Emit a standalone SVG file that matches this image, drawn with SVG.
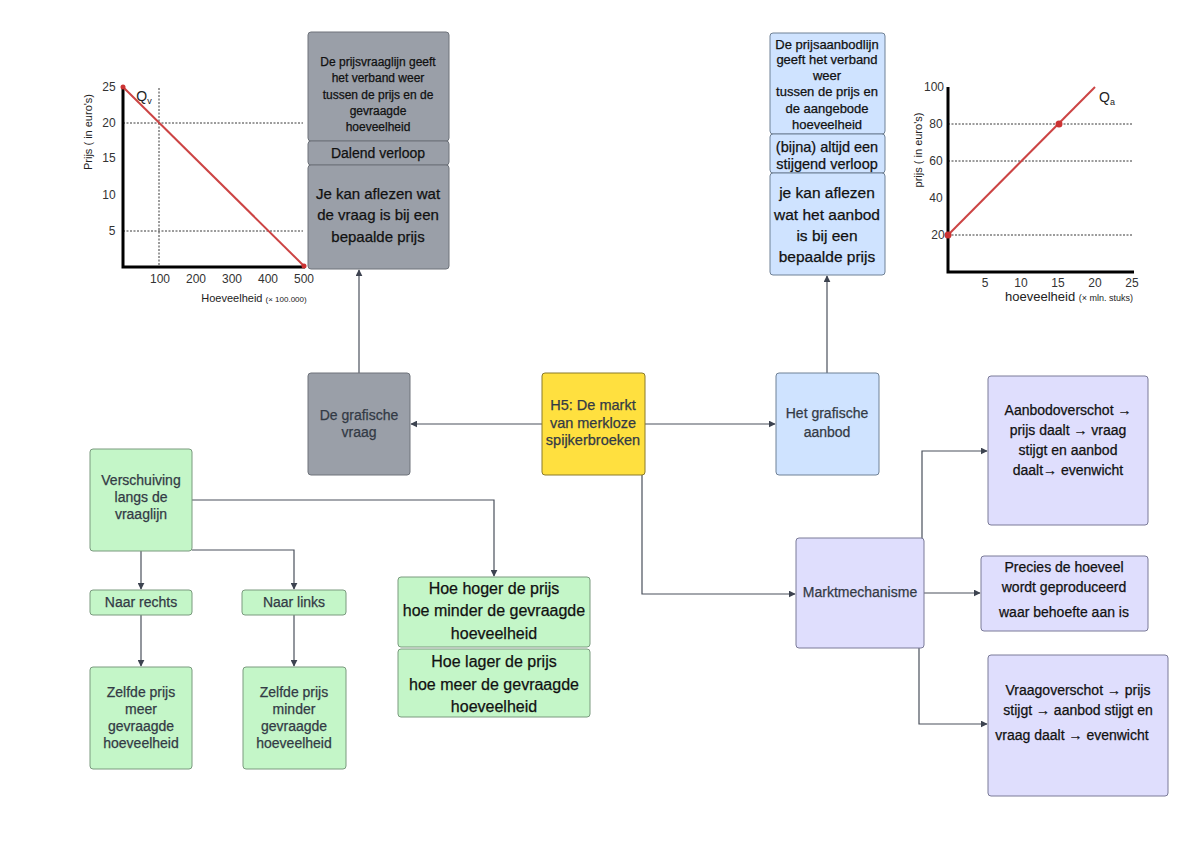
<svg xmlns="http://www.w3.org/2000/svg" width="1200" height="848" viewBox="0 0 1200 848">
<defs>
<marker id="arr" viewBox="0 0 10 10" refX="9" refY="5" markerWidth="7" markerHeight="7" orient="auto" markerUnits="userSpaceOnUse">
<path d="M0,0 L10,5 L0,10 z" fill="#3d4350"/>
</marker>
<style>
text{font-family:"Liberation Sans",Arial,sans-serif;text-anchor:middle}
.gray{fill:#9a9fa8;stroke:#6e737b;stroke-width:1}
.blue{fill:#cfe3ff;stroke:#6f8196;stroke-width:1}
.yel{fill:#ffe03f;stroke:#8a7a2a;stroke-width:1}
.lav{fill:#dfdefd;stroke:#7a7a98;stroke-width:1}
.grn{fill:#c4f6c8;stroke:#7a9a7e;stroke-width:1}
.t{font-size:14px;fill:#111;stroke:#111;stroke-width:0.25}
.td{font-size:14px;fill:#333a45;stroke:#333a45;stroke-width:0.25}
.con{fill:none;stroke:#4a505c;stroke-width:1.2;marker-end:url(#arr)}
.ax{stroke:#000;stroke-width:3;fill:none}
.dash{stroke:#222;stroke-width:0.9;stroke-dasharray:2,1.5;fill:none}
.tick{font-size:12px;fill:#333}
</style>
</defs>
<rect width="1200" height="848" fill="#fff"/>

<g id="chart-vraag">
<line class="dash" x1="123" y1="123" x2="303" y2="123"/>
<line class="dash" x1="123" y1="231" x2="303" y2="231"/>
<line class="dash" x1="159" y1="88" x2="159" y2="267"/>
<polyline class="ax" points="123,87 123,267 305,267"/>
<line x1="123" y1="87" x2="304" y2="266" stroke="#cc4444" stroke-width="2"/>
<circle cx="123" cy="87" r="2.5" fill="#cc3333"/>
<circle cx="304" cy="266" r="2.5" fill="#cc3333"/>
<text x="144" y="101" font-size="14" fill="#222">Q<tspan font-size="9" dy="3">v</tspan></text>
<text class="tick" x="109" y="91">25</text>
<text class="tick" x="109" y="127">20</text>
<text class="tick" x="109" y="162">15</text>
<text class="tick" x="109" y="199">10</text>
<text class="tick" x="112" y="235">5</text>
<text class="tick" x="160" y="283">100</text>
<text class="tick" x="196" y="283">200</text>
<text class="tick" x="232" y="283">300</text>
<text class="tick" x="268" y="283">400</text>
<text class="tick" x="304" y="283">500</text>
<text x="0" y="0" font-size="11" fill="#222" transform="translate(92,132) rotate(-90)">Prijs ( in euro's)</text>
<text x="254" y="302" font-size="11" fill="#222">Hoeveelheid <tspan font-size="8">(× 100.000)</tspan></text>
</g>

<g id="chart-aanbod">
<line class="dash" x1="948" y1="124" x2="1133" y2="124"/>
<line class="dash" x1="948" y1="161" x2="1133" y2="161"/>
<line class="dash" x1="948" y1="235" x2="1133" y2="235"/>
<polyline class="ax" points="948,87 948,272 1134,272"/>
<line x1="948" y1="235" x2="1095" y2="87" stroke="#cc4444" stroke-width="2"/>
<circle cx="948" cy="235" r="3.5" fill="#cc3333"/>
<circle cx="1059" cy="124" r="3.5" fill="#cc3333"/>
<text x="1107" y="102" font-size="14" fill="#222">Q<tspan font-size="9" dy="3">a</tspan></text>
<text class="tick" x="934" y="91">100</text>
<text class="tick" x="936" y="128">80</text>
<text class="tick" x="936" y="165">60</text>
<text class="tick" x="936" y="202">40</text>
<text class="tick" x="938" y="239">20</text>
<text class="tick" x="985" y="287">5</text>
<text class="tick" x="1021" y="287">10</text>
<text class="tick" x="1058" y="287">15</text>
<text class="tick" x="1095" y="287">20</text>
<text class="tick" x="1132" y="287">25</text>
<text x="0" y="0" font-size="11" fill="#222" transform="translate(922,150) rotate(-90)">prijs ( in euro's)</text>
<text x="1069" y="301" font-size="13" fill="#222">hoeveelheid <tspan font-size="9">(× mln. stuks)</tspan></text>
</g>

<g id="connectors">
<path class="con" d="M542,424 H411"/>
<path class="con" d="M645,424 H775"/>
<path class="con" d="M359,373 V270"/>
<path class="con" d="M827,373 V276"/>
<path class="con" d="M827,173 V135"/>
<path class="con" d="M642,475 V594 H795"/>
<path class="con" d="M922,538 V451 H987"/>
<path class="con" d="M924,593 H980"/>
<path class="con" d="M919,648 V724 H987"/>
<path class="con" d="M192,500 H494 V576"/>
<path class="con" d="M141,551 V589"/>
<path class="con" d="M192,550 H294 V589"/>
<path class="con" d="M141,615 V666"/>
<path class="con" d="M294,615 V666"/>
</g>

<g id="prijsvraaglijn">
<rect class="gray" x="308" y="32" width="141" height="109" rx="3"/>
<text class="t" x="378" y="66" style="font-size:12px">De prijsvraaglijn geeft</text>
<text class="t" x="378" y="82" style="font-size:12px">het verband weer</text>
<text class="t" x="378" y="99" style="font-size:12px">tussen de prijs en de</text>
<text class="t" x="378" y="115" style="font-size:12px">gevraagde</text>
<text class="t" x="378" y="131" style="font-size:12px">hoeveelheid</text>
</g>
<g id="dalend">
<rect class="gray" x="308" y="141" width="141" height="24" rx="3"/>
<text class="t" x="378" y="158">Dalend verloop</text>
</g>
<g id="aflezen-vraag">
<rect class="gray" x="308" y="165" width="141" height="104" rx="3"/>
<text class="t" x="378" y="199" style="font-size:15px">Je kan aflezen wat</text>
<text class="t" x="378" y="220" style="font-size:15px">de vraag is bij een</text>
<text class="t" x="378" y="242" style="font-size:15px">bepaalde prijs</text>
</g>

<g id="prijsaanbodlijn">
<rect class="blue" x="770" y="33" width="115" height="101" rx="3"/>
<text class="t" x="827" y="49" style="font-size:13px">De prijsaanbodlijn</text>
<text class="t" x="827" y="64" style="font-size:13px">geeft het verband</text>
<text class="t" x="827" y="80" style="font-size:13px">weer</text>
<text class="t" x="827" y="96" style="font-size:13px">tussen de prijs en</text>
<text class="t" x="827" y="113" style="font-size:13px">de aangebode</text>
<text class="t" x="827" y="129" style="font-size:13px">hoeveelheid</text>
</g>
<g id="stijgend">
<rect class="blue" x="770" y="134" width="115" height="39" rx="3"/>
<text class="t" x="827" y="152" style="font-size:14.5px">(bijna) altijd een</text>
<text class="t" x="827" y="169" style="font-size:14.5px">stijgend verloop</text>
</g>
<g id="aflezen-aanbod">
<rect class="blue" x="770" y="173" width="115" height="102" rx="3"/>
<text class="t" x="827" y="198" style="font-size:15.5px">je kan aflezen</text>
<text class="t" x="827" y="220" style="font-size:15.5px">wat het aanbod</text>
<text class="t" x="827" y="241" style="font-size:15.5px">is bij een</text>
<text class="t" x="827" y="262" style="font-size:15.5px">bepaalde prijs</text>
</g>

<g id="grafische-vraag">
<rect class="gray" x="308" y="373" width="102" height="102" rx="3"/>
<text class="td" x="359" y="420">De grafische</text>
<text class="td" x="359" y="437">vraag</text>
</g>
<g id="h5">
<rect class="yel" x="542" y="373" width="103" height="102" rx="3"/>
<text class="td" x="593" y="410" style="font-size:14.5px">H5: De markt</text>
<text class="td" x="593" y="428" style="font-size:14.5px">van merkloze</text>
<text class="td" x="593" y="445" style="font-size:14.5px">spijkerbroeken</text>
</g>
<g id="grafische-aanbod">
<rect class="blue" x="776" y="373" width="103" height="102" rx="3"/>
<text class="td" x="827" y="418">Het grafische</text>
<text class="td" x="827" y="437">aanbod</text>
</g>

<g id="marktmechanisme">
<rect class="lav" x="796" y="538" width="128" height="110" rx="3"/>
<text class="td" x="860" y="597">Marktmechanisme</text>
</g>
<g id="aanbodoverschot">
<rect class="lav" x="988" y="376" width="160" height="149" rx="3"/>
<text class="t" x="1068" y="415">Aanbodoverschot →</text>
<text class="t" x="1068" y="435">prijs daalt → vraag</text>
<text class="t" x="1068" y="455">stijgt en aanbod</text>
<text class="t" x="1068" y="475">daalt→ evenwicht</text>
</g>
<g id="precies">
<rect class="lav" x="981" y="556" width="167" height="75" rx="3"/>
<text class="t" x="1064" y="572">Precies de hoeveel</text>
<text class="t" x="1064" y="592">wordt geproduceerd</text>
<text class="t" x="1064" y="617">waar behoefte aan is</text>
</g>
<g id="vraagoverschot">
<rect class="lav" x="988" y="655" width="180" height="141" rx="3"/>
<text class="t" x="1078" y="695">Vraagoverschot → prijs</text>
<text class="t" x="1078" y="715">stijgt → aanbod stijgt en</text>
<text class="t" x="1072" y="740">vraag daalt → evenwicht</text>
</g>

<g id="verschuiving">
<rect class="grn" x="90" y="449" width="102" height="102" rx="3"/>
<text class="td" x="141" y="485">Verschuiving</text>
<text class="td" x="141" y="502">langs de</text>
<text class="td" x="141" y="519">vraaglijn</text>
</g>
<g id="naar-rechts">
<rect class="grn" x="90" y="590" width="102" height="25" rx="3"/>
<text class="td" x="141" y="607">Naar rechts</text>
</g>
<g id="naar-links">
<rect class="grn" x="242" y="590" width="104" height="25" rx="3"/>
<text class="td" x="294" y="607">Naar links</text>
</g>
<g id="zelfde-meer">
<rect class="grn" x="90" y="667" width="102" height="102" rx="3"/>
<text class="td" x="141" y="697">Zelfde prijs</text>
<text class="td" x="141" y="714">meer</text>
<text class="td" x="141" y="731">gevraagde</text>
<text class="td" x="141" y="748">hoeveelheid</text>
</g>
<g id="zelfde-minder">
<rect class="grn" x="243" y="667" width="103" height="102" rx="3"/>
<text class="td" x="294" y="697">Zelfde prijs</text>
<text class="td" x="294" y="714">minder</text>
<text class="td" x="294" y="731">gevraagde</text>
<text class="td" x="294" y="748">hoeveelheid</text>
</g>
<g id="hoe-hoger">
<rect class="grn" x="398" y="577" width="192" height="70" rx="3"/>
<text class="t" x="494" y="594" style="font-size:16px">Hoe hoger de prijs</text>
<text class="t" x="494" y="616" style="font-size:16px">hoe minder de gevraagde</text>
<text class="t" x="494" y="639" style="font-size:16px">hoeveelheid</text>
</g>
<g id="hoe-lager">
<rect class="grn" x="398" y="649" width="192" height="68" rx="3"/>
<text class="t" x="494" y="667" style="font-size:16px">Hoe lager de prijs</text>
<text class="t" x="494" y="690" style="font-size:16px">hoe meer de gevraagde</text>
<text class="t" x="494" y="712" style="font-size:16px">hoeveelheid</text>
</g>
</svg>
